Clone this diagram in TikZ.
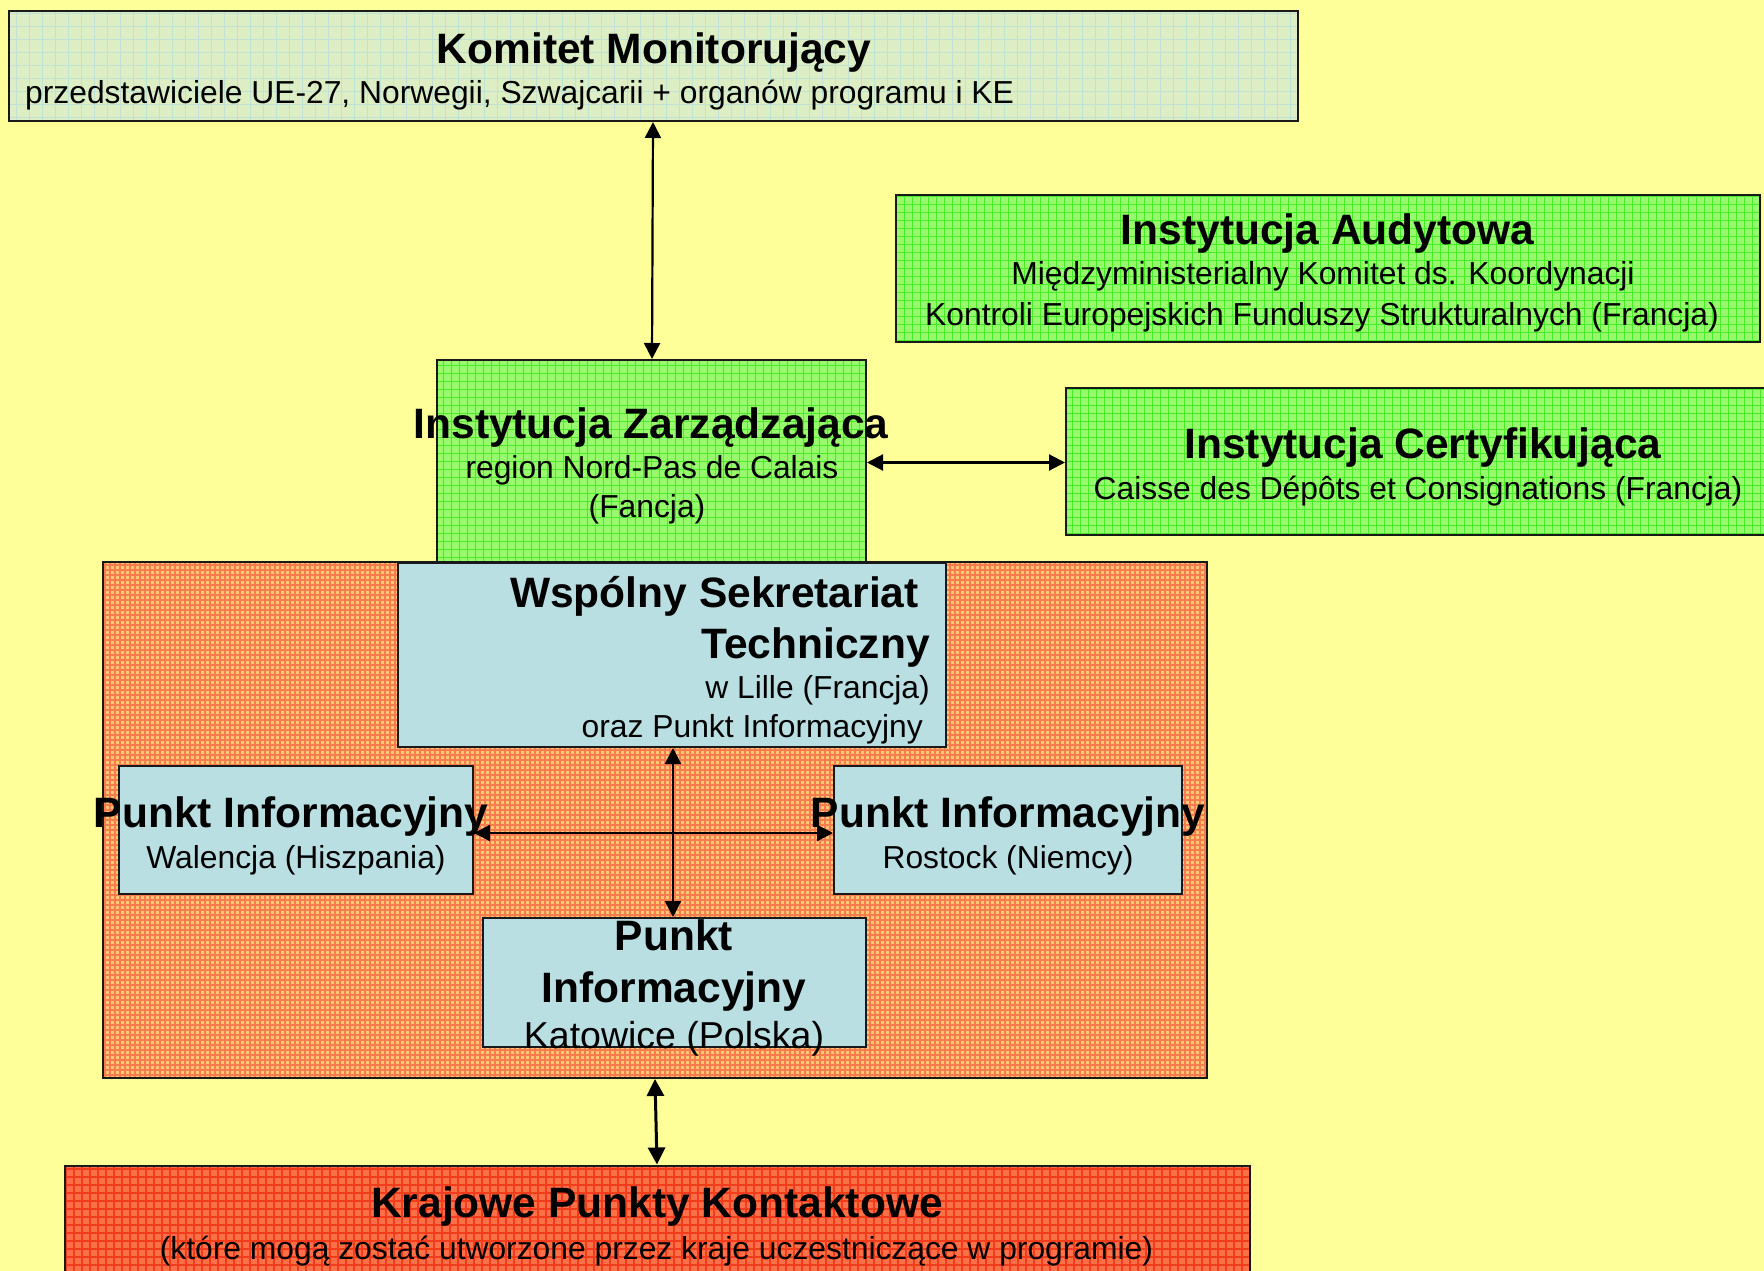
\documentclass[tikz,border=0pt]{standalone}
\usepackage{fontspec}
\setmainfont{Liberation Sans}
\usetikzlibrary{arrows.meta}
\definecolor{bgY}{RGB}{255,255,153}
\definecolor{kmFill}{RGB}{222,238,196}
\definecolor{kmLine}{RGB}{192,226,212}
\definecolor{grFill}{RGB}{150,250,108}
\definecolor{grLine}{RGB}{70,236,40}
\definecolor{orFill}{RGB}{255,200,116}
\definecolor{orLine}{RGB}{248,124,78}
\definecolor{blFill}{RGB}{186,223,227}
\definecolor{rdFill}{RGB}{255,112,72}
\definecolor{rdLine}{RGB}{242,60,28}
\definecolor{edge}{RGB}{25,25,25}
\tikzset{
  box/.style={draw=edge, line width=2pt, inner sep=0pt, rectangle},
  tex/.style 2 args={fill=#1, path picture={\draw[#2] (path picture bounding box.south west) grid (path picture bounding box.north east);}},
  kmbox/.style={box, tex={kmFill}{kmLine, line width=1pt, step=13pt}},
  grbox/.style={box, tex={grFill}{grLine, line width=1pt, step=8pt}},
  orbox/.style={box, tex={orFill}{orLine, line width=1.3pt, step=5pt}},
  rdbox/.style={box, tex={rdFill}{rdLine, line width=2pt, step=8pt}},
  blbox/.style={box, fill=blFill},
  ttl/.style={inner sep=0pt, font=\fontsize{42.5}{51}\selectfont\bfseries},
  sub/.style={inner sep=0pt, font=\fontsize{31.8}{40}\selectfont},
  subL/.style={inner sep=0pt, font=\fontsize{37.5}{45}\selectfont},
  arr/.style={{Triangle[length=16pt,width=16pt]}-{Triangle[length=16pt,width=16pt]}, line width=2.2pt, draw=black},
  arrB/.style={{Triangle[length=17pt,width=17pt]}-{Triangle[length=17pt,width=17pt]}, line width=3pt, draw=black}
}
\begin{document}
\begin{tikzpicture}[x=1pt,y=-1pt]
\useasboundingbox (0,0) rectangle (1764,1271);
\fill[bgY] (0,0) rectangle (1764,1271);

% boxes
\node[kmbox, minimum width=1289pt, minimum height=110pt] (km) at (653.5,66) {};
\node[grbox, minimum width=864pt, minimum height=147pt] (ia) at (1328,268.5) {};
\node[grbox, minimum width=429pt, minimum height=202pt] (iz) at (651.5,461) {};
\node[grbox, minimum width=700pt, minimum height=147pt] (ic) at (1416,461.5) {};
\node[orbox, minimum width=1104pt, minimum height=516pt] (org) at (655,820) {};
\node[blbox, minimum width=548pt, minimum height=184pt] (wst) at (672,655) {};
\node[blbox, minimum width=354pt, minimum height=128pt] (pw) at (296,830) {};
\node[blbox, minimum width=348pt, minimum height=128pt] (pr) at (1008,830) {};
\node[blbox, minimum width=383pt, minimum height=129pt] (pk) at (674.5,982.5) {};
\node[rdbox, minimum width=1185pt, minimum height=119pt] (kpk) at (657.5,1225) {};

% connectors
\draw[arr] ([xshift=-0.5pt]km.south) -- ([xshift=0.5pt]iz.north);
\draw[arr] ([yshift=-1.5pt]iz.east) -- ([yshift=-1pt]ic.west);
\draw[arr] ([xshift=1pt]wst.south) -- ([xshift=-1.5pt]pk.north);
\draw[arr] ([yshift=-3pt]pw.east) -- ([yshift=-3pt]pr.west);
\draw[arrB] (org.south) -- ([xshift=-0.5pt]kpk.north);

% texts
\node[ttl, anchor=base] (kmT) at (654,64) {Komitet Monitorujący};
\node[sub, anchor=base west] (kmS) at (25,103.5) {przedstawiciele UE-27, Norwegii, Szwajcarii + organów programu i KE};

\node[ttl, anchor=base] (iaT) at (1327.5,244) {Instytucja Audytowa};
\node[sub, anchor=base] (iaS1) at (1323,284.5) {Międzyministerialny Komitet ds. Koordynacji};
\node[sub, anchor=base] (iaS2) at (1322,325) {Kontroli Europejskich Funduszy Strukturalnych (Francja)};

\node[ttl, anchor=base] (izT) at (651,438) {Instytucja Zarządzająca};
\node[sub, anchor=base] (izS1) at (652,478) {region Nord-Pas de Calais};
\node[sub, anchor=base] (izS2) at (647,517) {(Fancja)};

\node[ttl, anchor=base] (icT) at (1423,458) {Instytucja Certyfikująca};
\node[sub, anchor=base] (icS) at (1418,499) {Caisse des Dépôts et Consignations (Francja)};

\node[ttl, anchor=base east] (wsT1) at (919,607) {Wspólny Sekretariat};
\node[ttl, anchor=base east] (wsT2) at (930,658) {Techniczny};
\node[sub, anchor=base east] (wsS1) at (930,698) {w Lille (Francja)};
\node[sub, anchor=base east] (wsS2) at (923,737) {oraz Punkt Informacyjny};

\node[ttl, anchor=base] (pwT) at (291,827) {Punkt Informacyjny};
\node[sub, anchor=base] (pwS) at (296,868) {Walencja (Hiszpania)};

\node[ttl, anchor=base] (prT) at (1008,827) {Punkt Informacyjny};
\node[sub, anchor=base] (prS) at (1008,868) {Rostock (Niemcy)};

\node[ttl, anchor=base] (pkT1) at (674,950) {Punkt};
\node[ttl, anchor=base] (pkT2) at (674,1002) {Informacyjny};
\node[subL, anchor=base] (pkS) at (674,1048) {Katowice (Polska)};

\node[ttl, anchor=base] (kpkT) at (657,1217) {Krajowe Punkty Kontaktowe};
\node[sub, anchor=base] (kpkS) at (656.5,1259) {(które mogą zostać utworzone przez kraje uczestniczące w programie)};
\end{tikzpicture}
\end{document}
